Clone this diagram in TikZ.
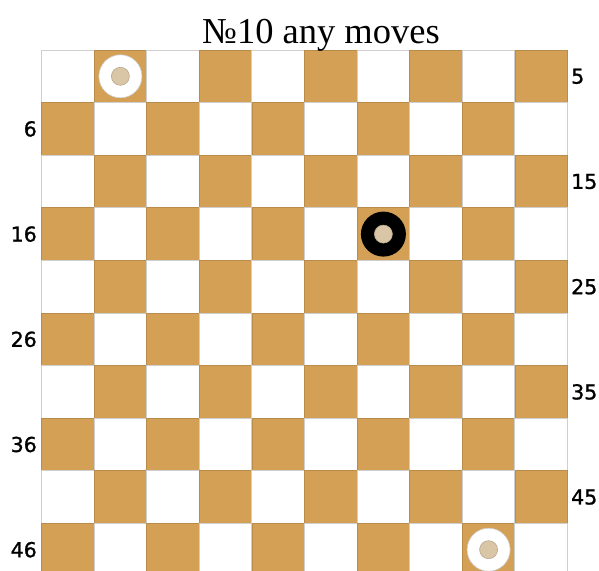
\documentclass[tikz,border=0pt]{standalone}
\usepackage{fontspec}
\setmainfont{Liberation Serif}
\newfontfamily\labfont[FakeBold=1.2]{DejaVu Sans}
\definecolor{darksq}{HTML}{D3A056}
\definecolor{darkedge}{HTML}{B98C4C}
\definecolor{lightedge}{HTML}{CFCFCF}
\definecolor{pcenter}{HTML}{D9C6A6}
\definecolor{pcedge}{HTML}{B8A88C}
\tikzset{
  lightsq/.style={fill=white,draw=lightedge,line width=1pt},
  darksqs/.style={fill=darksq,draw=darkedge,line width=0.8pt},
  lab/.style={font=\labfont\fontsize{20.5}{20.5}\selectfont,inner sep=0pt},
  whitepc/.style={circle,fill=white,draw=lightedge,line width=0.6pt,minimum size=43pt,inner sep=0pt},
  blackpc/.style={circle,fill=black,minimum size=45pt,inner sep=0pt},
  pcore/.style={circle,fill=pcenter,draw=pcedge,line width=0.6pt,minimum size=18pt,inner sep=0pt}
}
\begin{document}
\begin{tikzpicture}[x=1pt,y=-1pt]
\useasboundingbox (0,0) rectangle (599,570);
\begin{scope}
\clip (0,0) rectangle (599,570);
\foreach \r in {0,...,9}{
  \foreach \c in {0,...,9}{
    \pgfmathtruncatemacro{\sqpar}{mod(\r+\c,2)}
    \ifnum\sqpar=1
      \draw[darksqs] ({41.5+52.6*\c},{50+52.6*\r}) rectangle ++(52.6,52.6);
    \else
      \draw[lightsq] ({41.5+52.6*\c},{50+52.6*\r}) rectangle ++(52.6,52.6);
    \fi
  }
}
\end{scope}
\node[font=\fontsize{36.5}{36.5}\selectfont,anchor=base,inner sep=0pt] (title) at (321,43) {№10 any moves};
\foreach \i/\n in {1/6,3/16,5/26,7/36,9/46}{
  \node[lab,anchor=east] (l\n) at (37,{50+52.6*(\i+0.5)}) {\n};
}
\foreach \i/\n in {0/5,2/15,4/25,6/35,8/45}{
  \node[lab,anchor=west] (r\n) at (571,{50+52.6*(\i+0.5)}) {\n};
}
\node[whitepc] (w2) at ({41.5+52.6*1.5},{50+52.6*0.5}) {};
\node[pcore] (w2c) at (w2.center) {};
\node[blackpc] (b19) at ({41.5+52.6*6.5},{50+52.6*3.5}) {};
\node[pcore] (b19c) at (b19.center) {};
\node[whitepc] (w49) at ({41.5+52.6*8.5},{50+52.6*9.5}) {};
\node[pcore] (w49c) at (w49.center) {};
\end{tikzpicture}
\end{document}
